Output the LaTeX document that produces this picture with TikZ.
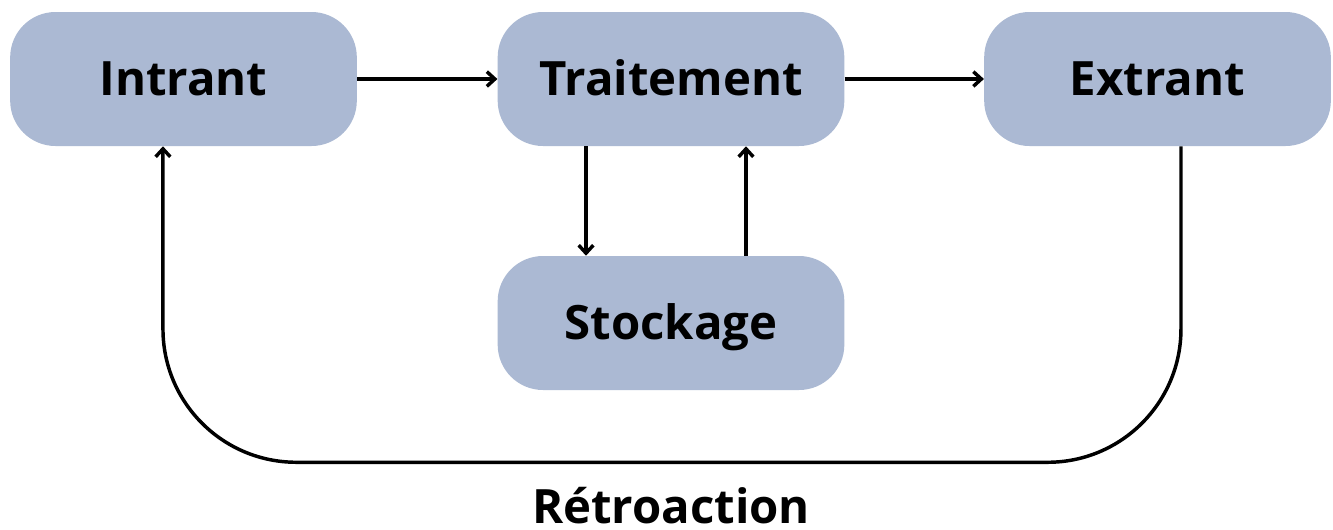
\documentclass[tikz,border=0pt]{standalone}
\usepackage{fontspec}
\setmainfont{Open Sans}
\usetikzlibrary{arrows.meta}

\definecolor{boxblue}{RGB}{171,185,211}

\begin{document}
\begin{tikzpicture}[x=0.75pt,y=-0.75pt,
    stage/.style={
% The shape:
rectangle, rounded corners=34pt,
% The size:
minimum height=100.5pt,
minimum width=260pt,
inner sep=0pt,
text height=24pt, text depth=0pt,
% The fill:
fill=boxblue, draw=none,
% The text:
font=\fontsize{35.5}{42}\selectfont\bfseries,
},
    flow/.style={
line width=2.6pt,
-{Straight Barb[length=6pt,width=11pt,line width=2.6pt]},
},
]
  \useasboundingbox (0,0) rectangle (1333,529);
  \node[stage] (I) at (183.5, 79) {Intrant};
  \node[stage] (T) at (671, 79) {Traitement};
  \node[stage] (E) at (1157.5, 79) {Extrant};
  \node[stage] (S) at (671, 323) {Stockage};
  \node[font=\fontsize{35.5}{42}\selectfont\bfseries, anchor=base, inner sep=0pt] (R) at (671, 523) {Rétroaction};
  \draw [flow] (I) -- (T);
  \draw [flow] (T) -- (E);
  \draw [flow] ([xshift=-63.75pt]T.south) -- ([xshift=-63.75pt]S.north);
  \draw [flow] ([xshift=56.25pt]S.north) -- ([xshift=56.25pt]T.south);
  % feedback loop
  \draw [flow, rounded corners=100pt] ([xshift=17.6pt]E.south) -- ++(0,316) -| ([xshift=-15.4pt]I.south);

\end{tikzpicture}
\end{document}
